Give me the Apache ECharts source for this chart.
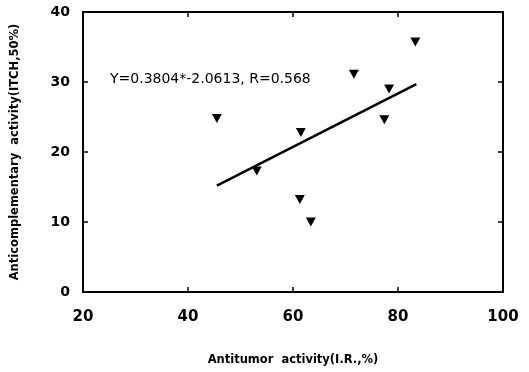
<!DOCTYPE html>
<html>
<head>
<meta charset="utf-8">
<script src="https://cdn.jsdelivr.net/npm/echarts@6/dist/echarts.min.js"></script>
<style>
  html, body { margin: 0; padding: 0; background: #fff; }
  #chart { width: 529px; height: 372px; }
</style>
</head>
<body>
<div id="chart"></div>
<script>
// antitumor activity (I.R.,%) vs anticomplementary activity (ITCH,50%)
let antitumor = [45.5, 53.1, 61.5, 61.3, 63.4, 71.6, 77.4, 78.3, 83.3];
let anticomp = [24.8, 17.3, 22.8, 13.2, 10.0, 31.1, 24.6, 29.0, 35.7];
// regression line end points as drawn
let fitX = [45.5, 83.5];
let fitY = [15.2, 29.7];
let xTicks = [20, 40, 60, 80, 100];
let yTicks = [0, 10, 20, 30, 40];

let font = 'DejaVu Sans';

let points = antitumor.map((x, i) => [x, anticomp[i]]);
let fitLine = fitX.map((x, i) => [x, fitY[i]]);

let tickLabel = {
    color: '#000',
    fontFamily: font,
    fontWeight: 'bold',
    fontSize: 14
};

let option = {
    animation: false,
    grid: {
        left: 83,
        right: 26,
        top: 12,
        bottom: 80,
        show: true,
        borderColor: '#000',
        borderWidth: 2
    },
    xAxis: [
        {
            type: 'value',
            min: xTicks[0],
            max: xTicks[xTicks.length - 1],
            interval: 20,
            splitLine: { show: false },
            axisLine: { show: true, onZero: false, lineStyle: { color: '#000', width: 2 } },
            axisTick: { inside: true, length: 5, lineStyle: { color: '#000', width: 1.5 } },
            axisLabel: Object.assign({ margin: 18 }, tickLabel, { fontSize: 15 }),
            name: 'Antitumor  activity(I.R.,%)',
            nameLocation: 'middle',
            nameGap: 62,
            nameTextStyle: { color: '#000', fontFamily: font, fontWeight: 'bold', fontSize: 11.5 }
        },
        {
            type: 'value',
            position: 'top',
            min: xTicks[0],
            max: xTicks[xTicks.length - 1],
            interval: 20,
            splitLine: { show: false },
            axisLine: { show: true, onZero: false, lineStyle: { color: '#000', width: 2 } },
            axisTick: { inside: true, length: 5, lineStyle: { color: '#000', width: 1.5 } },
            axisLabel: { show: false }
        }
    ],
    yAxis: [
        {
            type: 'value',
            min: yTicks[0],
            max: yTicks[yTicks.length - 1],
            interval: 10,
            splitLine: { show: false },
            axisLine: { show: true, onZero: false, lineStyle: { color: '#000', width: 2 } },
            axisTick: { inside: true, length: 5, lineStyle: { color: '#000', width: 1.5 } },
            axisLabel: Object.assign({ margin: 13 }, tickLabel),
            name: 'Anticomplementary  activity(ITCH,50%)',
            nameLocation: 'middle',
            nameGap: 62,
            nameTextStyle: { color: '#000', fontFamily: font, fontWeight: 'bold', fontSize: 11.5 }
        },
        {
            type: 'value',
            position: 'right',
            min: yTicks[0],
            max: yTicks[yTicks.length - 1],
            interval: 10,
            splitLine: { show: false },
            axisLine: { show: true, onZero: false, lineStyle: { color: '#000', width: 2 } },
            axisTick: { inside: true, length: 5, lineStyle: { color: '#000', width: 1.5 } },
            axisLabel: { show: false }
        }
    ],
    graphic: [
        {
            type: 'text',
            left: 110,
            top: 72,
            style: {
                text: 'Y=0.3804*-2.0613, R=0.568',
                fill: '#000',
                font: '14px "DejaVu Sans", sans-serif'
            }
        }
    ],
    series: [
        {
            type: 'line',
            data: fitLine,
            symbol: 'none',
            lineStyle: { color: '#000', width: 2.5 },
            z: 2
        },
        {
            type: 'scatter',
            data: points,
            symbol: 'triangle',
            symbolRotate: 180,
            symbolSize: [10, 9],
            itemStyle: { color: '#000', opacity: 1 },
            z: 3
        }
    ]
};

let mychart = echarts.init(document.getElementById('chart'));
mychart.setOption(option);
</script>
</body>
</html>
